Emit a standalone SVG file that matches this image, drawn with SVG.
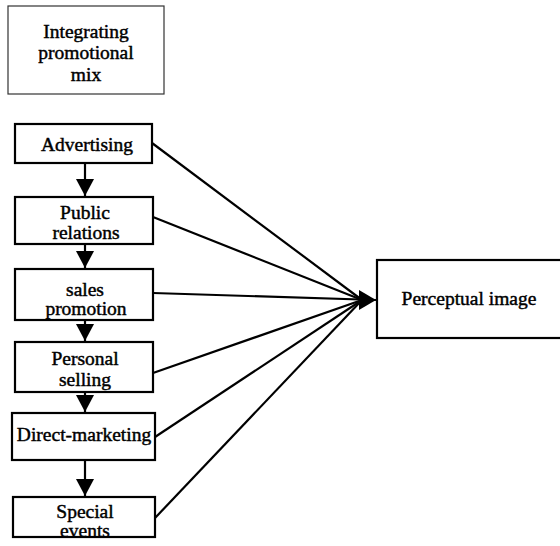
<svg xmlns="http://www.w3.org/2000/svg" width="560" height="546" viewBox="0 0 560 546">
<style>
.box{fill:#fff;stroke:#000;stroke-width:2.2}
.thin{fill:#fff;stroke:#333;stroke-width:1.2}
.t{font-family:"Liberation Serif","Times New Roman",serif;font-size:19.5px;fill:#000;stroke:#000;stroke-width:0.45;text-anchor:middle}
.ln{stroke:#000;stroke-width:2.2;fill:none}
</style>
<defs>
<marker id="ah" markerUnits="userSpaceOnUse" viewBox="0 0 17 18" refX="17" refY="9" markerWidth="17" markerHeight="18" orient="auto">
<path d="M0,0 L17,9 L0,18 Z" fill="#000"/>
</marker>
<marker id="ah0" markerUnits="userSpaceOnUse" viewBox="0 0 17 20" refX="17" refY="10" markerWidth="17" markerHeight="20" orient="0">
<path d="M0,0 L17,10 L0,20 Z" fill="#000"/>
</marker>
</defs>
<g id="connectors">
<line class="ln" x1="85" y1="163" x2="85" y2="196" marker-end="url(#ah)"/>
<line class="ln" x1="85" y1="244" x2="85" y2="268" marker-end="url(#ah)"/>
<line class="ln" x1="85" y1="320" x2="85" y2="341" marker-end="url(#ah)"/>
<line class="ln" x1="85" y1="392" x2="85" y2="412" marker-end="url(#ah)"/>
<line class="ln" x1="85" y1="460" x2="85" y2="496" marker-end="url(#ah)"/>
<line class="ln" x1="152" y1="143" x2="362" y2="300"/>
<line class="ln" x1="153" y1="217" x2="362" y2="300"/>
<line class="ln" x1="153" y1="293" x2="376" y2="300" marker-end="url(#ah0)"/>
<line class="ln" x1="153" y1="373" x2="362" y2="300"/>
<line class="ln" x1="155" y1="437" x2="362" y2="300"/>
<line class="ln" x1="155" y1="518" x2="362" y2="300"/>
</g>
<g id="mix">
<rect class="thin" x="8" y="6" width="156" height="88"/>
<text class="t" x="86" y="38">Integrating</text>
<text class="t" x="86" y="59">promotional</text>
<text class="t" x="86" y="81">mix</text>
</g>
<g id="advertising">
<rect class="box" x="15" y="124" width="137" height="39"/>
<text class="t" x="87" y="151">Advertising</text>
</g>
<g id="public-relations">
<rect class="box" x="15" y="197" width="138" height="47"/>
<text class="t" x="85" y="219">Public</text>
<text class="t" x="86" y="239">relations</text>
</g>
<g id="sales-promotion">
<rect class="box" x="15" y="269" width="138" height="51"/>
<text class="t" x="85" y="296">sales</text>
<text class="t" x="86" y="315">promotion</text>
</g>
<g id="personal-selling">
<rect class="box" x="15" y="342" width="138" height="50"/>
<text class="t" x="85" y="365">Personal</text>
<text class="t" x="85" y="386">selling</text>
</g>
<g id="direct-marketing">
<rect class="box" x="12" y="413" width="143" height="47"/>
<text class="t" x="84" y="441">Direct-marketing</text>
</g>
<g id="special-events">
<rect class="box" x="13" y="497" width="142" height="40"/>
<text class="t" x="85" y="518">Special</text>
<text class="t" x="85" y="537">events</text>
</g>
<g id="perceptual-image">
<rect class="box" x="377" y="260" width="186" height="78"/>
<text class="t" x="469" y="305">Perceptual image</text>
</g>
</svg>
